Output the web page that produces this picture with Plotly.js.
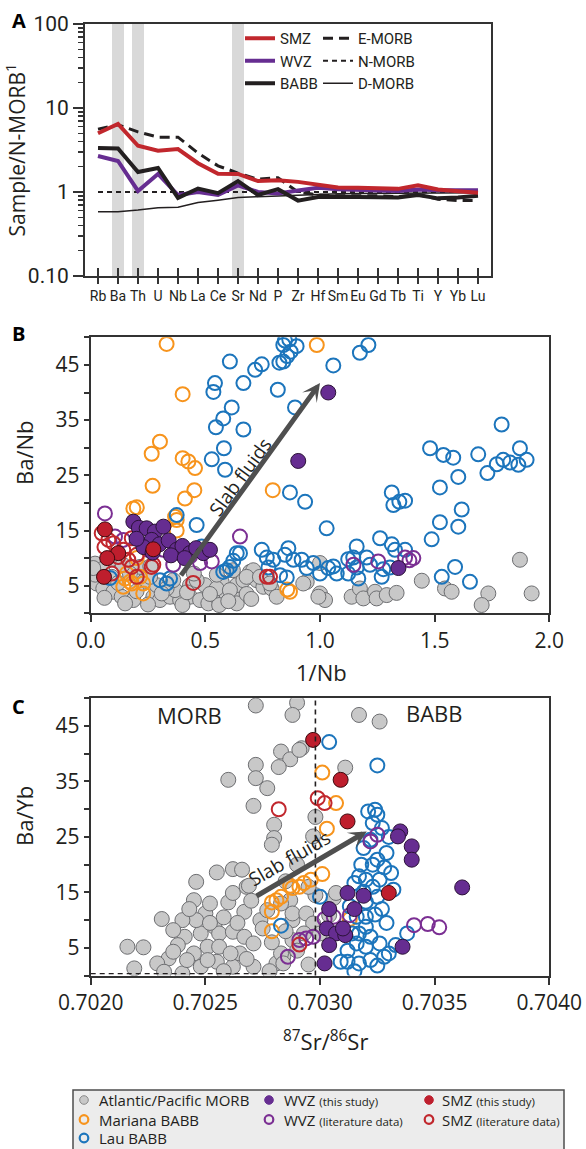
<!DOCTYPE html>
<html><head><meta charset="utf-8">
<script src="https://cdn.plot.ly/plotly-3.0.1.min.js"></script>
<style>html,body{margin:0;padding:0;background:#fff}#chart{width:586px;height:1149px}</style>
</head><body><div id="chart"></div>
<script>
// ---------- Panel A data (sample / N-MORB) ----------
const elements = ['Rb','Ba','Th','U','Nb','La','Ce','Sr','Nd','P','Zr','Hf','Sm','Eu','Gd','Tb','Ti','Y','Yb','Lu'];
const highlighted = ['Ba','Th','Sr'];
const smzA  = [5.0,6.45,3.55,3.1,3.25,2.2,1.65,1.64,1.35,1.38,1.32,1.22,1.13,1.12,1.12,1.09,1.2,1.07,1.02,0.98];
const wvzA  = [2.68,2.34,1.03,1.64,0.92,1.0,0.92,1.2,1.0,0.96,1.04,1.12,1.08,1.05,1.04,1.03,1.07,1.05,1.05,1.05];
const babbA = [3.35,3.3,1.73,1.93,0.85,1.1,0.97,1.35,0.92,1.08,0.79,0.87,0.88,0.87,0.87,0.86,0.92,0.84,0.86,0.9];
const emorbA= [5.6,6.3,5.2,4.5,4.5,2.9,2.05,1.68,1.42,1.48,1.0,0.92,0.9,0.9,0.9,0.88,0.93,0.82,0.79,0.79];
const nmorbA= [1,1,1,1,1,1,1,1,1,1,1,1,1,1,1,1,1,1,1,1];
const dmorbA= [0.58,0.58,0.61,0.65,0.66,0.75,0.8,0.86,0.88,0.9,0.92,0.93,0.95,0.96,0.96,0.97,0.97,0.98,0.98,0.98];
const logTicks = [0.1,1,10,100];
const logTickText = ['0.10','1','10','100'];
const logMinor = [0.2,0.3,0.4,0.5,0.6,0.7,0.8,0.9,2,3,4,5,6,7,8,9,20,30,40,50,60,70,80,90];

// ---------- Panel B data: [1/Nb, Ba/Nb] ----------
const morbB = [[0.019,9.0],[0.026,5.4],[0.055,4.5],[0.099,3.9],[0.135,3.0],[0.186,2.4],[0.084,9.7],[0.033,7.5],[0.273,3.0],[0.302,2.4],[0.346,3.0],[0.390,2.4],[0.433,3.0],[0.477,2.4],[0.513,1.8],[0.549,3.0],[0.593,3.3],[0.644,3.0],[0.637,5.1],[0.571,5.7],[0.498,5.1],[0.433,5.1],[0.368,4.2],[0.549,4.5],[0.607,4.2],[0.666,6.0],[0.695,7.5],[0.709,7.8],[0.724,6.0],[0.753,4.8],[0.789,4.5],[0.811,3.0],[0.215,8.4],[0.229,5.7],[0.288,5.1],[0.331,4.5],[0.092,6.6],[0.171,7.2],[0.259,6.6],[0.360,6.0],[0.462,6.0],[0.637,1.8],[0.680,6.6],[0.738,6.6],[0.782,5.4],[0.06,2.8],[0.15,1.8],[0.25,1.6],[0.40,1.5],[0.56,1.5],[0.12,5.5],[0.20,4.0],[0.31,3.6],[0.42,3.8],[0.52,3.5],[0.68,3.5],[0.60,2.2],[0.70,2.6],[0.02,7.0],[0.05,8.0],[0.14,8.8],[0.26,8.5],[0.45,7.2],[0.55,7.0],[0.62,7.8],[0.011,8.2],
[1.000,9.1],[0.942,5.7],[0.927,5.4],[1.000,3.6],[1.022,2.4],[0.993,3.0],[1.138,3.0],[1.174,4.5],[1.189,2.7],[1.240,3.9],[1.247,2.7],[1.291,3.3],[1.334,3.7],[1.444,5.9],[1.545,4.5],[1.574,3.9],[1.734,3.6],[1.705,1.5],[1.872,9.7],[1.923,3.6]];
const marianaB = [[0.331,48.8],[0.401,39.7],[0.302,31.1],[0.266,28.9],[0.401,28.1],[0.426,27.5],[0.455,26.3],[0.270,23.1],[0.452,22.3],[0.411,20.8],[0.186,19.0],[0.201,19.2],[0.368,17.5],[0.375,15.0],[0.794,22.3],[0.857,4.3],[0.869,3.9],[0.986,48.6],[0.215,6.6],[0.150,6.3],[0.179,5.4],[0.229,5.4],[0.229,3.6],[0.142,4.8],[0.375,16.9],[0.171,5.7],[0.157,7.2],[0.201,10.0]];
const lauB = [[0.847,49.4],[0.866,49.6],[0.840,48.6],[0.898,48.4],[0.872,47.4],[0.857,46.6],[0.840,45.6],[0.823,45.4],[0.607,45.6],[0.717,44.1],[0.746,45.1],[0.666,41.7],[0.542,41.7],[0.535,40.1],[0.615,37.3],[0.578,35.3],[0.546,33.7],[0.666,33.3],[0.581,29.9],[0.528,27.9],[0.586,26.0],[0.816,40.5],[0.891,37.3],[1.058,44.9],[1.174,47.2],[1.211,48.6],[0.869,21.9],[0.935,20.2],[1.029,15.4],
[1.480,29.9],[1.538,28.7],[1.581,28.2],[1.690,28.8],[1.792,34.2],[1.872,29.9],[1.730,25.4],[1.771,27.0],[1.799,27.8],[1.829,27.3],[1.865,26.9],[1.901,27.8],[1.523,22.8],[1.603,24.7],[1.313,21.9],[1.320,19.6],[1.346,20.2],[1.371,20.4],[1.618,18.8],[1.523,16.5],[1.603,15.7],[1.487,13.4],
[1.262,13.6],[1.313,12.5],[1.327,11.5],[1.371,11.5],[1.160,12.1],[1.145,10.1],[1.204,10.1],[1.160,8.3],[1.123,7.2],[1.167,6.3],[1.073,7.2],[1.036,8.2],[1.000,7.2],[0.971,9.1],[0.942,8.2],[0.920,9.7],[0.862,11.8],[0.847,10.6],[0.796,9.7],[0.768,10.1],[0.746,11.5],[0.775,8.3],[0.826,6.9],[0.855,6.5],[0.651,10.9],[0.622,9.5],[0.607,8.4],[0.578,7.5],[0.462,16.0],[0.375,17.8],[0.484,12.1],[0.506,11.5],[0.331,5.4],[0.302,6.0],[1.531,6.6],[1.589,8.4],[1.654,5.7],[1.269,6.6],[1.276,8.0],[1.305,8.3],[1.123,9.8],[1.218,8.8],[0.884,9.7],[1.058,8.5],[0.637,10.9],[0.593,7.8],[0.084,6.4],[0.346,6.3]];
const wvzStudyB = [[0.186,16.6],[0.21,15.5],[0.244,15.4],[0.28,14.8],[0.317,15.7],[0.266,13.3],[0.30,12.5],[0.23,12.0],[0.34,13.2],[0.375,11.5],[0.40,12.2],[0.433,10.9],[0.46,11.8],[0.491,10.9],[0.52,11.5],[0.35,10.5],[0.27,11.0],[0.20,13.5],[0.41,10.0],[0.905,27.6],[1.036,40.0],[1.342,8.2]];
const wvzLitB = [[0.062,18.1],[0.106,13.9],[0.651,13.9],[1.146,8.8],[1.254,9.4],[1.371,10.1],[1.407,10.0],[0.142,13.3],[0.251,11.5],[0.360,8.8],[0.433,10.3],[0.528,9.4],[0.317,11.5],[0.477,9.1],[1.390,9.6]];
const smzStudyB = [[0.062,15.2],[0.120,10.9],[0.072,10.0],[0.273,11.6],[0.058,6.6]];
const smzLitB = [[0.048,14.5],[0.077,13.3],[0.142,11.5],[0.164,9.7],[0.179,8.4],[0.266,8.4],[0.201,6.6],[0.092,7.2],[0.447,5.5],[0.782,6.6],[0.768,6.6],[0.099,12.7],[0.179,13.6],[0.201,10.6],[0.273,8.8],[0.12,10.2],[0.06,12.0]];

// ---------- Panel C data: [87Sr/86Sr, Ba/Yb] ----------
const morbC = [[0.70272,48.7],[0.70290,49.2],[0.70288,47.0],[0.70283,40.4],[0.70287,39.0],[0.70282,37.6],[0.70272,38.0],[0.70272,35.6],[0.70260,35.3],[0.70277,33.8],[0.70271,30.6],[0.70280,27.2],[0.70280,24.8],[0.70279,23.6],[0.70255,18.6],[0.70262,19.2],[0.70246,16.9],[0.70245,13.6],[0.70260,13.2],[0.70250,11.2],[0.70231,10.2],[0.70241,7.0],[0.70238,5.5],[0.70234,3.1],[0.70229,2.2],[0.70216,5.2],[0.70223,5.1],[0.70219,1.3],[0.70232,0.7],[0.70240,0.4],[0.70248,1.6],[0.70255,2.5],[0.70262,1.6],[0.70265,4.0],[0.70271,1.6],[0.70248,7.6],[0.70254,8.8],[0.70256,7.6],[0.70262,7.9],[0.70267,7.0],[0.70271,5.8],[0.70274,10.0],[0.70267,11.5],[0.70251,5.2],[0.70245,4.0],[0.70242,2.8],[0.70236,4.3],[0.70256,5.2],[0.70261,4.0],[0.70251,2.8],[0.70246,10.0],[0.70240,10.0],[0.70236,8.2],[0.70277,11.8],[0.70281,2.2],[0.70284,3.4],[0.70288,10.0],[0.70287,13.6],[0.70262,14.9],[0.70268,16.0],
[0.70317,47.0],[0.70326,45.8],[0.70292,41.0],[0.70311,37.5],[0.70298,28.6],[0.70266,19.1],[0.70269,16.2],[0.70298,14.5],[0.70306,14.0],[0.70288,11.2],[0.70294,11.2],[0.70297,9.4],[0.70300,7.6],[0.70293,7.6],[0.70288,6.4],[0.70283,4.0],[0.70284,2.2],[0.70297,25.1],[0.70307,14.9],[0.70304,10.9],[0.70291,40.7],
[0.70258,10.5],[0.70252,13.0],[0.70270,13.5],[0.70275,8.5],[0.70279,6.0],[0.70285,8.0],[0.70290,4.5],[0.70295,2.0],[0.70278,0.8],[0.70268,3.0],[0.70258,0.8],[0.70252,9.5],[0.70243,12.0],[0.70264,9.5],[0.70283,13.0],[0.70285,17.0],[0.70295,16.0],[0.70290,20.0]];
const marianaC = [[0.70301,36.6],[0.70307,31.1],[0.70303,26.5],[0.70301,18.3],[0.70296,17.3],[0.70291,16.0],[0.70288,15.8],[0.70283,14.2],[0.70279,13.2],[0.70279,11.5],[0.70279,8.0],[0.70313,10.2],[0.70293,16.7],[0.70281,13.6],[0.70287,16.2]];
const lauC = [[0.70304,42.1],[0.70325,37.9],[0.70324,29.9],[0.70325,29.0],[0.70327,26.6],[0.70322,24.5],[0.70319,23.0],[0.70329,22.1],[0.70325,20.9],[0.70323,20.0],[0.70331,18.5],[0.70317,17.9],[0.70320,17.3],[0.70315,16.7],[0.70326,17.3],[0.70323,16.0],[0.70319,15.1],[0.70325,14.2],[0.70320,13.3],[0.70320,8.8],[0.70317,7.6],[0.70322,7.0],[0.70316,5.8],[0.70320,5.2],[0.70326,5.8],[0.70328,3.4],[0.70330,4.0],[0.70322,2.8],[0.70317,2.2],[0.70312,2.5],[0.70309,2.5],[0.70314,7.6],[0.70316,10.6],[0.70338,7.6],[0.70320,10.6],[0.70300,14.2],[0.70321,29.6],[0.70323,27.5],[0.70283,9.0],[0.70330,25.0],[0.70318,20.0],[0.70327,12.0],[0.70313,12.5],[0.70324,11.0],[0.70329,9.5],[0.70312,4.5],[0.70325,1.8],[0.70315,0.8],[0.70333,5.5],[0.70328,19.5],[0.70332,15.5]];
const wvzStudyC = [[0.70335,26.0],[0.70334,25.1],[0.70340,23.3],[0.70340,20.9],[0.70362,15.9],[0.70312,14.9],[0.70319,14.4],[0.70315,12.0],[0.70304,12.0],[0.70303,8.5],[0.70307,7.6],[0.70311,7.3],[0.70304,5.5],[0.70336,5.2],[0.70302,2.2],[0.70310,8.5]];
const wvzLitC = [[0.70322,24.2],[0.70325,25.4],[0.70341,9.1],[0.70347,9.3],[0.70352,8.7],[0.70302,10.2],[0.70313,10.9],[0.70297,7.0],[0.70294,6.7],[0.70286,3.4],[0.70306,10.6],[0.70291,6.4]];
const smzStudyC = [[0.70297,42.5],[0.70309,35.3],[0.70312,27.8],[0.70330,14.9]];
const smzLitC = [[0.70282,30.0],[0.70299,32.0],[0.70302,31.1],[0.70291,5.6]];

const morbBoundarySr = 0.70298;
const ticksB = [0,0.5,1,1.5,2];
const ticksC = [0.702,0.7025,0.703,0.7035,0.704];
const ticksYLabelled = [5,15,25,35,45];
const ticksYMinor = [0,10,20,30,40,50];

// ---------- helpers ----------
const W = 586, H = 1149;
const px = v => v / W, py = v => 1 - v / H;
const FONT = 'Open Sans, sans-serif';
const NARROW = 'Roboto, Liberation Sans, sans-serif';
const INK = '#231f20';

const styles = {
  morb:     {name:'Atlantic/Pacific MORB', marker:{symbol:'circle', size:15, color:'#c8c8c8', line:{color:'#6d6e71', width:1}}, col:0, row:0},
  mariana:  {name:'Mariana BABB', marker:{symbol:'circle-open', size:14, color:'#f7941d', line:{width:2}}, col:0, row:1},
  lau:      {name:'Lau BABB', marker:{symbol:'circle-open', size:14, color:'#1c75bc', line:{width:2}}, col:0, row:2},
  wvzLit:   {name:'WVZ', sub:'(literature data)', marker:{symbol:'circle-open', size:14, color:'#7b2f93', line:{width:2}}, col:1, row:1},
  smzLit:   {name:'SMZ', sub:'(literature data)', marker:{symbol:'circle-open', size:14, color:'#c1272d', line:{width:2}}, col:2, row:1},
  wvzStudy: {name:'WVZ', sub:'(this study)', marker:{symbol:'circle', size:15, color:'#662d91', line:{color:'#2b1238', width:1}}, col:1, row:0},
  smzStudy: {name:'SMZ', sub:'(this study)', marker:{symbol:'circle', size:15, color:'#be1e2d', line:{color:'#3d0a0f', width:1}}, col:2, row:0}
};
const order = ['morb','mariana','lau','wvzLit','smzLit','wvzStudy','smzStudy'];
const setsB = {morb:morbB, mariana:marianaB, lau:lauB, wvzLit:wvzLitB, smzLit:smzLitB, wvzStudy:wvzStudyB, smzStudy:smzStudyB};
const setsC = {morb:morbC, mariana:marianaC, lau:lauC, wvzLit:wvzLitC, smzLit:smzLitC, wvzStudy:wvzStudyC, smzStudy:smzStudyC};

const traces = [];
// Panel A lines
const lineDefs = [
  {y:dmorbA, name:'D-MORB', line:{color:INK, width:1.5}, legend:'legend2', rank:3},
  {y:nmorbA, name:'N-MORB', line:{color:INK, width:1.8, dash:'5px,4px'}, legend:'legend2', rank:2},
  {y:emorbA, name:'E-MORB', line:{color:INK, width:3, dash:'10px,6px'}, legend:'legend2', rank:1},
  {y:wvzA, name:'WVZ', line:{color:'#662d91', width:4}, legend:'legend', rank:2},
  {y:babbA, name:'BABB', line:{color:INK, width:4}, legend:'legend', rank:3},
  {y:smzA, name:'SMZ', line:{color:'#c1272d', width:4}, legend:'legend', rank:1}
];
lineDefs.forEach(d => traces.push({type:'scatter', mode:'lines', x:elements, y:d.y, name:d.name, line:d.line,
  xaxis:'x', yaxis:'y', legend:d.legend, legendrank:d.rank, hoverinfo:'skip'}));
traces.push({type:'scatter', mode:'markers', x:[null], y:[null], xaxis:'x4', yaxis:'y', showlegend:false, hoverinfo:'skip'});

// Panels B and C scatter
order.forEach(k => {
  const s = styles[k];
  traces.push({type:'scatter', mode:'markers', x:setsB[k].map(p=>p[0]), y:setsB[k].map(p=>p[1]), marker:s.marker,
    xaxis:'x2', yaxis:'y2', name:s.name + (s.sub ? ' ' + s.sub : ''), showlegend:false, hoverinfo:'skip'});
});
order.forEach(k => {
  const s = styles[k];
  traces.push({type:'scatter', mode:'markers', x:setsC[k].map(p=>p[0]), y:setsC[k].map(p=>p[1]), marker:s.marker,
    xaxis:'x3', yaxis:'y3', name:s.name + (s.sub ? ' ' + s.sub : ''), showlegend:false, hoverinfo:'skip'});
});

const axBase = {showline:true, mirror:true, linecolor:'#333', linewidth:2, ticks:'outside', tickcolor:'#333',
  tickwidth:2, showgrid:false, zeroline:false, tickfont:{family:FONT, size:21, color:INK}};

const shapes = [];
highlighted.forEach(el => {
  const i = elements.indexOf(el);
  shapes.push({type:'rect', xref:'x', yref:'y domain', x0:i-0.3, x1:i+0.3, y0:0, y1:1, fillcolor:'#d9d9d9', line:{width:0}, layer:'below'});
});
shapes.push({type:'line', xref:'x3', yref:'y3 domain', x0:morbBoundarySr, x1:morbBoundarySr, y0:0, y1:1, line:{color:INK, width:1.6, dash:'5px,4px'}});
shapes.push({type:'line', xref:'x3', yref:'y3', x0:0.702, x1:morbBoundarySr, y0:0.35, y1:0.35, line:{color:INK, width:1.4, dash:'5px,4px'}});

// bottom key box (framed key with symbols + labels)
shapes.push({type:'rect', xref:'paper', yref:'paper', x0:px(73), x1:px(564), y0:py(1160), y1:py(1090), fillcolor:'#ececec', line:{color:'#4d4d4d', width:1.5}, layer:'below'});
const keyColX = [84, 269, 429];
const keyTextX = [97, 282, 440];
const keyRowY = [1100, 1119.5, 1138];
const annotations = [];
order.forEach(k => {
  const s = styles[k];
  const cx = keyColX[s.col], cy = keyRowY[s.row], r = 4.3;
  const filled = s.marker.symbol === 'circle';
  shapes.push({type:'circle', xref:'paper', yref:'paper', x0:px(cx - r), x1:px(cx + r), y0:py(cy + r), y1:py(cy - r),
    fillcolor: filled ? s.marker.color : 'rgba(0,0,0,0)',
    line:{color: filled ? (k === 'morb' ? '#8a8a8a' : s.marker.color) : s.marker.color, width: filled ? 1 : 2.2}});
  const txt = s.sub ? s.name + ' <span style="font-size:11.5px">' + s.sub + '</span>' : s.name;
  annotations.push({xref:'paper', yref:'paper', x:px(keyTextX[s.col]), y:py(cy), xanchor:'left', yanchor:'middle',
    text:txt, showarrow:false, font:{family:FONT, size:15, color:INK}});
});

const C = {xanchor:'center', yanchor:'middle', showarrow:false};
annotations.push(
  Object.assign({xref:'paper', yref:'paper', x:px(19), y:py(21), text:'<b>A</b>', font:{family:FONT, size:20, color:'#000'}}, C),
  Object.assign({xref:'paper', yref:'paper', x:px(19), y:py(333), text:'<b>B</b>', font:{family:FONT, size:20, color:'#000'}}, C),
  Object.assign({xref:'paper', yref:'paper', x:px(19), y:py(706), text:'<b>C</b>', font:{family:FONT, size:20, color:'#000'}}, C),
  Object.assign({xref:'paper', yref:'paper', x:px(24), y:py(453), text:'Ba/Nb', textangle:-90, font:{family:FONT, size:22, color:INK}}, C),
  Object.assign({xref:'paper', yref:'paper', x:px(24), y:py(816), text:'Ba/Yb', textangle:-90, font:{family:FONT, size:22, color:INK}}, C),
  Object.assign({xref:'paper', yref:'paper', x:px(321), y:py(672), text:'1/Nb', font:{family:FONT, size:22, color:INK}}, C),
  Object.assign({xref:'paper', yref:'paper', x:px(325), y:py(1040), text:'<sup>87</sup>Sr/<sup>86</sup>Sr', font:{family:FONT, size:22, color:INK}}, C),
  {xref:'x2', yref:'y2', x:1.0, y:41.7, ax:0.389, ay:6.6, axref:'x2', ayref:'y2', text:'', showarrow:true, arrowhead:3, arrowsize:0.6, arrowwidth:5, arrowcolor:'#4f4f4f'},
  Object.assign({xref:'x2', yref:'y2', x:0.652, y:24.7, text:'Slab fluids', textangle:-54, font:{family:FONT, size:19, color:INK}}, C),
  {xref:'x3', yref:'y3', x:0.703204, y:26.0, ax:0.702717, ay:14.2, axref:'x3', ayref:'y3', text:'', showarrow:true, arrowhead:3, arrowsize:0.6, arrowwidth:5, arrowcolor:'#4f4f4f'},
  Object.assign({xref:'x3', yref:'y3', x:0.702869, y:21.2, text:'Slab fluids', textangle:-30, font:{family:FONT, size:19, color:INK}}, C),
  Object.assign({xref:'x3', yref:'y3', x:0.70243, y:46.9, text:'MORB', font:{family:FONT, size:22, color:INK}}, C),
  Object.assign({xref:'x3', yref:'y3', x:0.7035, y:47.4, text:'BABB', font:{family:FONT, size:22, color:INK}}, C)
);

const legBase = {bgcolor:'rgba(0,0,0,0)', borderwidth:0, xanchor:'left', yanchor:'top', traceorder:'normal', tracegroupgap:0, itemclick:false, itemdoubleclick:false};
const minorY = {tickvals:ticksYMinor, ticks:'outside', ticklen:5, tickwidth:2, tickcolor:'#333', showgrid:false};
const layout = {
  width:W, height:H, margin:{l:0, r:0, t:0, b:0}, paper_bgcolor:'#fff', plot_bgcolor:'rgba(0,0,0,0)',
  font:{family:FONT, color:INK},
  xaxis: Object.assign({}, axBase, {domain:[px(85), px(491)], anchor:'y', type:'category', range:[-0.65, 19.65],
    tickvals:elements, ticktext:elements, ticklen:6, tickangle:0, tickfont:{family:NARROW, size:14, color:INK}}),
  xaxis4: {overlaying:'x', anchor:'y', domain:[px(85), px(491)], type:'linear', range:[-0.65, 19.65],
    tickvals:elements.map((_, i) => i), ticks:'inside', ticklen:8, tickwidth:2, tickcolor:'#333',
    showticklabels:false, showline:false, showgrid:false, zeroline:false},
  yaxis: Object.assign({}, axBase, {domain:[py(276), py(24)], anchor:'x', type:'log', range:[-1, 2],
    tickvals:logTicks, ticktext:logTickText, ticklen:10, tickfont:{family:NARROW, size:21, color:INK},
    minor:{tickvals:logMinor, ticks:'outside', ticklen:5, tickwidth:1.5, tickcolor:'#333', showgrid:false},
    title:{text:'Sample/N-MORB<sup>1</sup>', font:{family:FONT, size:21, color:INK}, standoff:6}}),
  xaxis2: Object.assign({}, axBase, {domain:[px(90.7), px(549.3)], anchor:'y2', range:[0, 2], tickvals:ticksB,
    ticktext:ticksB.map(v => v.toFixed(1)), ticklen:7}),
  yaxis2: Object.assign({}, axBase, {domain:[py(613.3), py(337.3)], anchor:'x2', range:[0, 50], tickvals:ticksYLabelled,
    ticktext:ticksYLabelled.map(String), ticklen:5, minor:minorY}),
  xaxis3: Object.assign({}, axBase, {domain:[px(90.7), px(549.3)], anchor:'y3', range:[0.702, 0.704], tickvals:ticksC,
    ticktext:ticksC.map(v => v.toFixed(4)), ticklen:7}),
  yaxis3: Object.assign({}, axBase, {domain:[py(975.6), py(698.3)], anchor:'x3', range:[0, 50], tickvals:ticksYLabelled,
    ticktext:ticksYLabelled.map(String), ticklen:5, minor:minorY}),
  legend:  Object.assign({}, legBase, {x:px(240), y:py(22), font:{family:NARROW, size:15, color:INK}}),
  legend2: Object.assign({}, legBase, {x:px(318), y:py(22), font:{family:NARROW, size:15, color:INK}}),
  shapes:shapes, annotations:annotations, showlegend:true
};
Plotly.newPlot('chart', traces, layout, {staticPlot:true, displayModeBar:false});
</script></body></html>
